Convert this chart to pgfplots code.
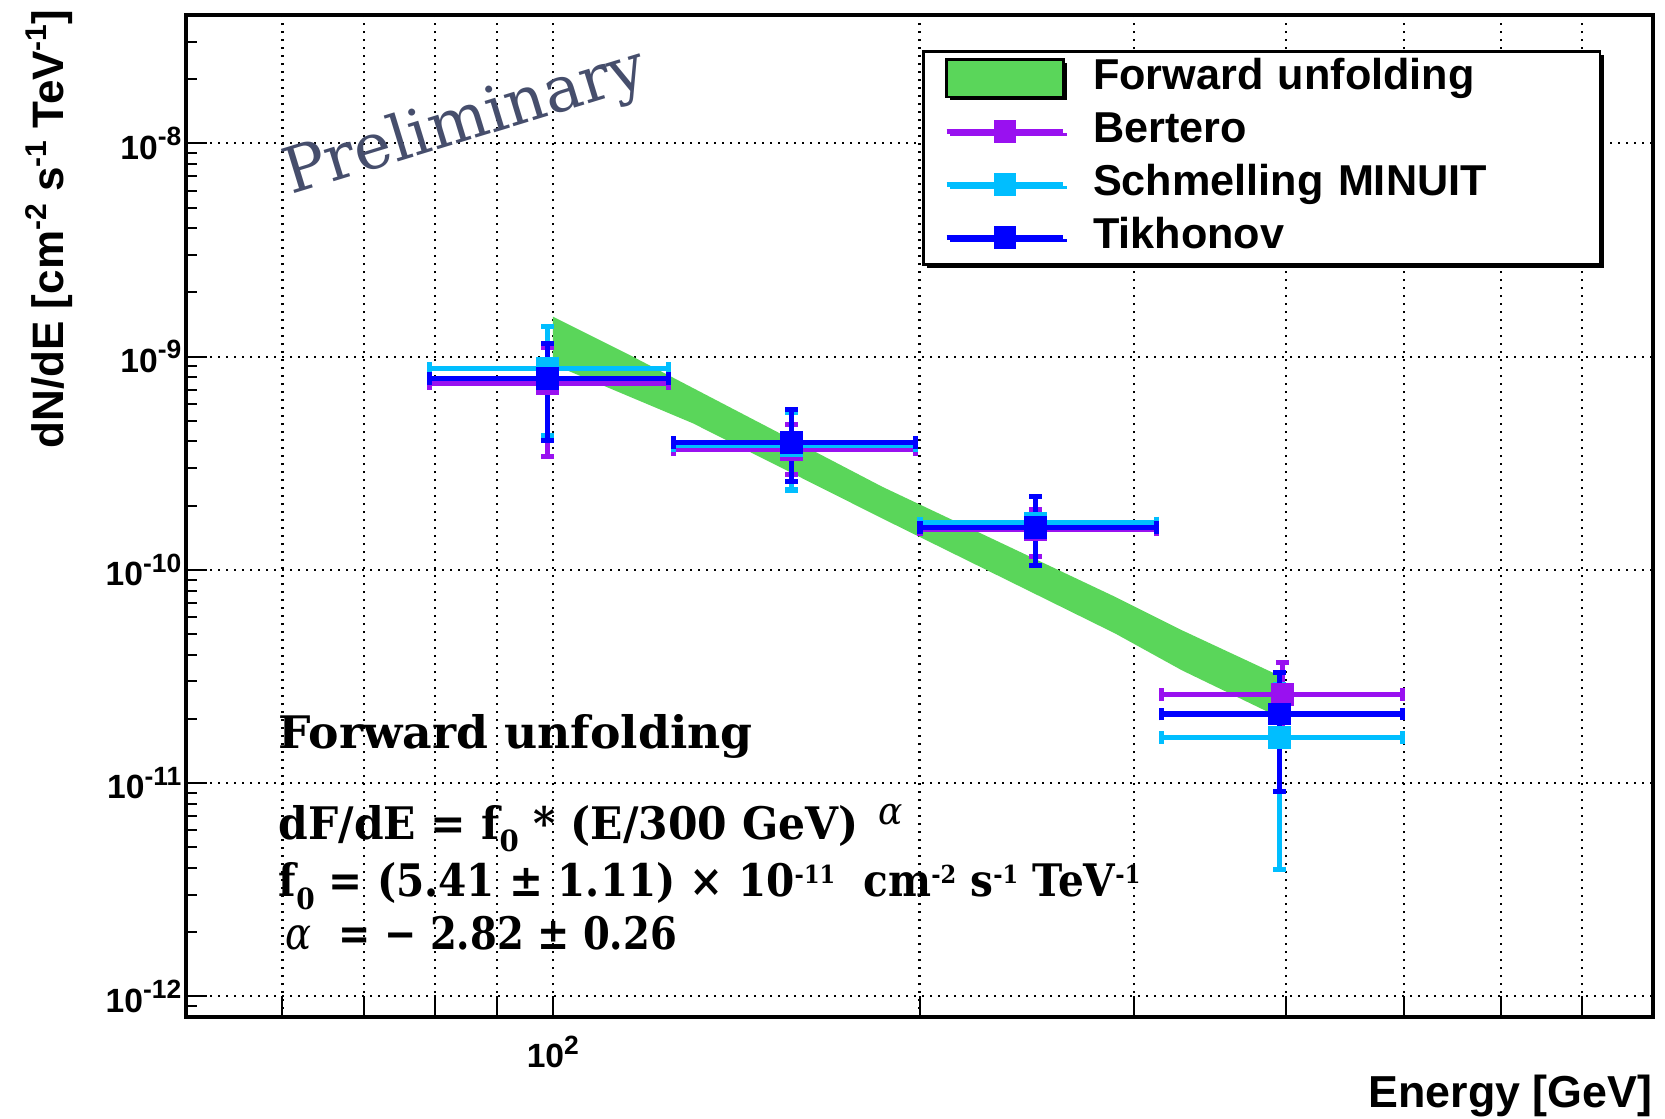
\documentclass[border=0pt]{standalone}
\usepackage{fontspec}
\setmainfont{Liberation Sans}
\newfontfamily\dvserif{DejaVu Serif}
\usepackage{pgfplots}
\pgfplotsset{compat=1.18}
\usetikzlibrary{shadows}

\definecolor{bandgreen}{RGB}{90,214,90}
\definecolor{bert}{RGB}{153,17,240}
\definecolor{schm}{RGB}{0,190,255}
\definecolor{tikh}{RGB}{0,0,255}
\definecolor{prelim}{RGB}{70,78,108}

\newcommand\tl[1]{\textbf{10\raisebox{3.4pt}{\fontsize{6.6}{6.6}\selectfont #1}}}
\newcommand\lsu[1]{\raisebox{4.2pt}{\fontsize{7.5}{7.5}\selectfont #1}}
\newcommand\ssu[1]{\raisebox{3.3pt}{\fontsize{6.2}{6.2}\selectfont #1}}
\newcommand\ssb[1]{\raisebox{-3.2pt}{\fontsize{7.3}{7.3}\selectfont #1}}

\pgfplotsset{
  errleg/.style={legend image code/.code={\draw[##1, sharp plot, line width=1.3pt, mark repeat=2, mark phase=2] plot coordinates {(0pt,0pt) (14.6pt,0pt) (29.2pt,0pt)};}},
  bandleg/.style={legend image code/.code={\draw[fill=bandgreen,draw=black,line width=0.6pt] (0pt,-4.65pt) rectangle (29.2pt,4.65pt);}},
  series/.style={#1, only marks, mark=square*, mark size=2.7pt, mark options={solid, line width=0.3pt, fill=#1, draw=#1},
    error bars/x dir=both, error bars/x explicit, error bars/y dir=both, error bars/y explicit,
    error bars/error bar style={line width=1.3pt, #1},
    error bars/error mark=-,
    error bars/error mark options={#1, line width=1.3pt, mark size=1.6pt, rotate=90}, errleg},
}

\begin{document}
\begin{tikzpicture}
\path[use as bounding box] (0,0) rectangle (416.25pt,279.75pt);
\begin{axis}[
  at={(46.5pt,25.5pt)}, anchor=south west,
  scale only axis, width=366.75pt, height=250.5pt,
  xmode=log, ymode=log,
  xmin=50, xmax=800, ymin=8e-13, ymax=4e-8,
  xtick={60,70,80,90,100,200,300,400,500,600,700},
  xticklabels={,,,,\tl{2},,,,,,},
  xminorticks=false,
  ytick={1e-12,1e-11,1e-10,1e-9,1e-8},
  yticklabels={\tl{-12},\tl{-11},\tl{-10},\tl{-9},\tl{-8}},
  minor ytick={9e-13,2e-12,3e-12,4e-12,5e-12,6e-12,7e-12,8e-12,9e-12,
    2e-11,3e-11,4e-11,5e-11,6e-11,7e-11,8e-11,9e-11,
    2e-10,3e-10,4e-10,5e-10,6e-10,7e-10,8e-10,9e-10,
    2e-9,3e-9,4e-9,5e-9,6e-9,7e-9,8e-9,9e-9,2e-8,3e-8},
  tick pos=left, tick align=inside,
  major tick length=5.2pt, minor tick length=2.7pt,
  tick style={black, line width=0.5pt},
  xmajorgrids=true, ymajorgrids=true,
  major grid style={black, line width=0.55pt, dash pattern=on 0.55pt off 1.45pt},
  axis line style={line width=0.8pt},
  ticklabel style={font=\fontsize{8.4}{8.4}\selectfont},
  yticklabel style={anchor=east, inner sep=0pt, xshift=-1pt},
  xticklabel style={anchor=north, inner sep=0pt, yshift=-4.5pt},
  xlabel={Energy [GeV]},
  xlabel style={at={(axis description cs:1,-0.0898)}, anchor=base east, inner sep=0pt, font=\fontsize{11.2}{11.2}\selectfont\bfseries},
  ylabel={dN/dE [cm\lsu{-2} s\lsu{-1} TeV\lsu{-1}]},
  ylabel style={at={(axis description cs:-0.0838,1.006)}, anchor=base east, inner sep=0pt, font=\fontsize{11}{11}\selectfont\bfseries},
  legend style={at={(0.5015,0.9652)}, anchor=north west, draw=black, line width=0.7pt, fill=white,
    inner xsep=5.2pt, inner ysep=1.5pt, row sep=2.75pt, column sep=6.8pt,
    font=\fontsize{10.8}{10.8}\selectfont\bfseries,
    nodes={inner sep=0pt, text height=8pt, text depth=2.5pt, text width=121.5pt, anchor=west},
    drop shadow={shadow xshift=0.9pt, shadow yshift=-0.9pt, fill=black, opacity=1}},
  legend cell align=left,
]

% Forward unfolding band
\addplot[fill=bandgreen, draw=none, bandleg]
  coordinates {(100,1.54e-9) (115.7,1.016e-9) (186.5,2.45e-10) (289.5,7.47e-11) (328.4,5.21e-11) (393,3.23e-11)
               (393,2.06e-11) (328.4,3.38e-11) (289.5,5.03e-11) (186.5,1.74e-10) (130.3,4.87e-10) (100,9.2e-10)} --cycle;
\addlegendentry{Forward unfolding}

% Bertero
\addplot[series=bert]
  table[x=x, y=y, x error minus=xl, x error plus=xh, y error minus=yl, y error plus=yh] {
x y xl xh yl yh
99 7.49e-10 19.8 25.5 4.10e-10 3.61e-10
157 3.68e-10 31.3 41.5 0.88e-10 1.12e-10
249 1.54e-10 48.8 64 0.38e-10 0.37e-10
397 2.60e-11 81 101 0.80e-11 1.09e-11
};
\addlegendentry{Bertero}

% Schmelling MINUIT
\addplot[series=schm]
  table[x=x, y=y, x error minus=xl, x error plus=xh, y error minus=yl, y error plus=yh] {
x y xl xh yl yh
99 8.8e-10 19.8 25.5 4.52e-10 5.0e-10
157 3.82e-10 31.3 41.5 1.45e-10 1.68e-10
249 1.66e-10 48.8 64 0.61e-10 0.55e-10
395 1.64e-11 79 103 1.247e-11 1.26e-11
};
\addlegendentry{Schmelling MINUIT}

% Tikhonov
\addplot[series=tikh]
  table[x=x, y=y, x error minus=xl, x error plus=xh, y error minus=yl, y error plus=yh] {
x y xl xh yl yh
99 7.9e-10 19.8 25.5 3.84e-10 3.6e-10
157 3.96e-10 31.3 41.5 1.36e-10 1.67e-10
249 1.58e-10 48.8 64 0.53e-10 0.63e-10
395 2.11e-11 79 103 1.194e-11 1.2e-11
};
\addlegendentry{Tikhonov}

% annotations
\node[rotate=17, anchor=base west, inner sep=0pt, text=prelim, font=\dvserif\fontsize{15.8}{15.8}\selectfont]
  at (axis description cs:0.0712,0.8204) {Preliminary};
\node[anchor=base west, inner sep=0pt, font=\dvserif\bfseries\fontsize{11.2}{11.2}\selectfont]
  at (axis description cs:0.0627,0.2675) {\scalebox{1.02}[1]{Forward unfolding}};
\node[anchor=base west, inner sep=0pt, font=\dvserif\bfseries\fontsize{11.2}{11.2}\selectfont]
  at (axis description cs:0.0627,0.1776) {\scalebox{0.948}[1]{dF/dE = f\ssb{0} * (E/300 GeV)\hspace{5.3pt}\raisebox{3.75pt}{\fontsize{9.5}{9.5}\selectfont\mdseries\itshape α}}};
\node[anchor=base west, inner sep=0pt, font=\dvserif\bfseries\fontsize{11.2}{11.2}\selectfont]
  at (axis description cs:0.0627,0.1198) {\scalebox{0.907}[1]{f\ssb{0} = (5.41 ± 1.11) × 10\ssu{-11}\ \ cm\ssu{-2} s\ssu{-1} TeV\ssu{-1}}};
\node[anchor=base west, inner sep=0pt, font=\dvserif\bfseries\fontsize{11.2}{11.2}\selectfont]
  at (axis description cs:0.0675,0.0669) {\scalebox{0.86}[1]{{\mdseries\itshape α}\ \ = − 2.82 ± 0.26}};
\end{axis}
\end{tikzpicture}
\end{document}
